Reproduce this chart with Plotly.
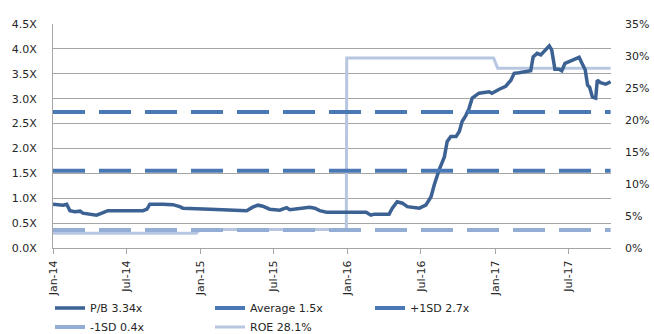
import plotly.graph_objects as go

# P/B ratio history (x)
pb_dates = [
    "2014-01-01", "2014-01-26", "2014-02-04", "2014-02-12", "2014-02-24", "2014-03-09",
    "2014-03-16", "2014-04-19", "2014-05-02", "2014-05-17", "2014-06-08", "2014-07-18",
    "2014-08-12", "2014-08-22", "2014-08-29", "2014-09-30", "2014-10-25", "2014-11-11",
    "2014-11-19", "2015-01-25", "2015-03-23", "2015-04-26", "2015-05-11", "2015-05-24",
    "2015-06-05", "2015-06-22", "2015-07-17", "2015-08-03", "2015-08-11", "2015-09-05",
    "2015-09-29", "2015-10-12", "2015-10-24", "2015-11-10", "2015-12-13", "2016-01-01",
    "2016-01-31", "2016-02-16", "2016-02-28", "2016-03-07", "2016-04-13", "2016-04-21",
    "2016-05-03", "2016-05-16", "2016-05-28", "2016-06-18", "2016-06-27", "2016-07-13",
    "2016-07-26", "2016-08-03", "2016-08-15", "2016-08-28", "2016-09-04", "2016-09-13",
    "2016-09-26", "2016-10-04", "2016-10-11", "2016-10-20", "2016-10-28", "2016-11-05",
    "2016-11-22", "2016-12-17", "2016-12-24", "2017-01-11", "2017-01-27", "2017-02-09",
    "2017-02-17", "2017-03-01", "2017-03-26", "2017-03-30", "2017-04-05", "2017-04-15",
    "2017-04-24", "2017-05-02", "2017-05-15", "2017-05-21", "2017-05-29", "2017-06-08",
    "2017-06-15", "2017-06-23", "2017-07-07", "2017-07-20", "2017-07-28", "2017-08-04",
    "2017-08-12", "2017-08-18", "2017-08-23", "2017-08-30", "2017-09-07", "2017-09-11",
    "2017-09-19", "2017-10-02", "2017-10-14",
]
pb_values = [
    0.88, 0.86, 0.88, 0.75, 0.73, 0.74,
    0.70, 0.66, 0.70, 0.75, 0.75, 0.75,
    0.75, 0.78, 0.88, 0.88, 0.87, 0.83,
    0.80, 0.78, 0.76, 0.75, 0.82, 0.86,
    0.84, 0.78, 0.76, 0.81, 0.77, 0.80,
    0.82, 0.80, 0.75, 0.72, 0.72, 0.71,
    0.72, 0.72, 0.66, 0.68, 0.68, 0.80,
    0.93, 0.90, 0.83, 0.82, 0.80, 0.86,
    1.03, 1.27, 1.57, 1.83, 2.14, 2.24,
    2.24, 2.34, 2.54, 2.66, 2.80, 3.01,
    3.11, 3.14, 3.11, 3.19, 3.25, 3.37,
    3.51, 3.52, 3.54, 3.56, 3.84, 3.91,
    3.88, 3.94, 4.06, 3.98, 3.59, 3.59,
    3.56, 3.71, 3.76, 3.79, 3.83, 3.71,
    3.58, 3.27, 3.23, 3.03, 3.01, 3.37,
    3.32, 3.29, 3.34,
]

# Return on equity (%)
roe_dates = ["2014-01-01", "2014-12-22", "2015-01-01", "2015-12-29", "2015-12-30",
             "2016-12-28", "2017-01-07", "2017-10-14"]
roe_values = [2.3, 2.3, 2.9, 2.9, 29.7, 29.7, 28.1, 28.1]

# Valuation bands (x)
band_dates = ["2014-01-01", "2017-10-14"]
pb_average = 1.55
pb_plus_1sd = 2.73
pb_minus_1sd = 0.36

x_start, x_end = "2014-01-01", "2017-10-15"

C_PB = "#3c6193"
C_AVG = "#4a78b5"
C_M1 = "#93add5"
C_ROE = "#b8c7e1"
GRID = "#a6a6a6"
TXT = "#262626"
FONT = "DejaVu Sans"

fig = go.Figure()

# ROE on the right-hand percentage axis (drawn underneath)
fig.add_trace(go.Scatter(
    x=roe_dates, y=roe_values, name="ROE 28.1%", mode="lines",
    line=dict(color=C_ROE, width=3), yaxis="y", legend="legend2", legendrank=5,
))

# P/B and valuation bands on the left multiple axis
fig.add_trace(go.Scatter(
    x=pb_dates, y=pb_values, name="P/B 3.34x", mode="lines",
    line=dict(color=C_PB, width=3.5), yaxis="y2", legend="legend", legendrank=1,
))
fig.add_trace(go.Scatter(
    x=band_dates, y=[pb_average] * 2, name="Average 1.5x", mode="lines",
    line=dict(color=C_AVG, width=4, dash="32px,14px"), yaxis="y2",
    legend="legend", legendrank=2,
))
fig.add_trace(go.Scatter(
    x=band_dates, y=[pb_plus_1sd] * 2, name="+1SD 2.7x", mode="lines",
    line=dict(color=C_AVG, width=4, dash="32px,14px"), yaxis="y2",
    legend="legend", legendrank=3,
))
fig.add_trace(go.Scatter(
    x=band_dates, y=[pb_minus_1sd] * 2, name="-1SD 0.4x", mode="lines",
    line=dict(color=C_M1, width=4, dash="32px,14px"), yaxis="y2",
    legend="legend2", legendrank=4,
))

legend_common = dict(
    orientation="h", xref="container", yref="container",
    xanchor="left", yanchor="middle",
    entrywidth=115, entrywidthmode="pixels",
    font=dict(family=FONT, size=11, color=TXT),
    bgcolor="rgba(0,0,0,0)", itemclick=False, itemdoubleclick=False,
    tracegroupgap=0,
)

fig.update_layout(
    width=654, height=334,
    margin=dict(l=53, r=43, t=24, b=86, autoexpand=False),
    paper_bgcolor="white", plot_bgcolor="white",
    font=dict(family=FONT, size=11, color=TXT),
    showlegend=True,
    legend=dict(x=50 / 654, y=(334 - 308) / 334, **legend_common),
    legend2=dict(x=50 / 654, y=(334 - 327) / 334, **legend_common),
    xaxis=dict(
        type="date", range=[x_start, x_end],
        tick0="2014-01-01", dtick="M6", tickformat="%b-%y", tickangle=-90,
        ticks="outside", ticklen=5, tickcolor=GRID,
        showline=True, linecolor=GRID, linewidth=1,
        showgrid=False, zeroline=False, ticklabelstandoff=2, automargin=False,
        tickfont=dict(family=FONT, size=11, color=TXT),
    ),
    yaxis=dict(
        side="right", range=[0, 35], dtick=5, ticksuffix="%",
        showgrid=False, zeroline=False, showline=False, ticks="",
        ticklabelstandoff=13, automargin=False,
        tickfont=dict(family=FONT, size=11, color=TXT),
    ),
    yaxis2=dict(
        overlaying="y", side="left", range=[0, 4.5], dtick=0.5,
        tickformat=".1f", ticksuffix="X",
        showgrid=True, gridcolor=GRID, gridwidth=1,
        zeroline=False, showline=True, linecolor=GRID, linewidth=1, ticks="",
        ticklabelstandoff=13, automargin=False,
        tickfont=dict(family=FONT, size=11, color=TXT),
    ),
)

fig.write_html("out.html")
